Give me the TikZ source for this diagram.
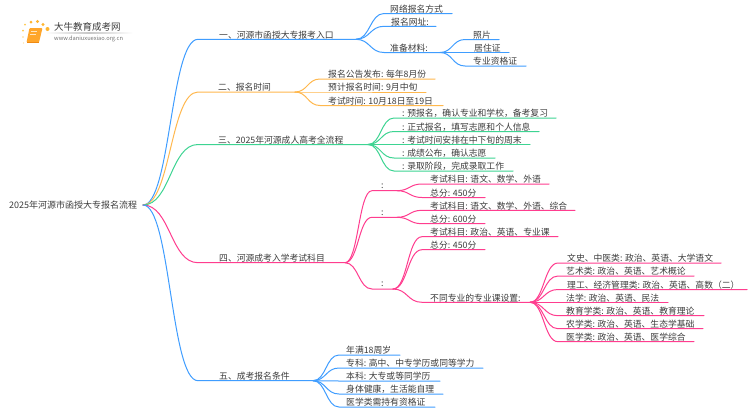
\documentclass[tikz,border=0pt]{standalone}
\usepackage{fontspec}
\setmainfont{Noto Sans CJK SC}
\usetikzlibrary{calc,fadings}
\definecolor{cblue}{HTML}{3F9DFF}
\definecolor{corange}{HTML}{FFB84D}
\definecolor{cgreen}{HTML}{3DD492}
\definecolor{cpink}{HTML}{FF3D8F}
\definecolor{ctext}{HTML}{3C3C3C}
\definecolor{bookc}{HTML}{FFA62B}
\definecolor{bookd}{HTML}{F08A12}
\tikzset{
  lab/.style={anchor=west,inner sep=0pt,text=ctext,font=\fontsize{8.8}{10}\selectfont},
  conn/.style={line width=1pt,line cap=round},
}
% name, parent, colour, curve end x, line end x, y, text x, text
\newcommand{\leaf}[8]{%
  \coordinate (#1-c) at (#4,#6);
  \coordinate (#1-e) at (#5,#6);
  \coordinate (#1-m) at ($(#2-e)!0.5!(#1-c)$);
  \draw[conn,#3] (#2-e) .. controls (#1-m |- #2-e) and (#1-m |- #1-c) .. (#1-c) -- (#1-e);
  \node[lab] (#1) at (#7,#6-4.5) {#8};
}
\begin{document}
\begin{tikzpicture}[x=1pt,y=-1pt]
\useasboundingbox (0,0) rectangle (750,410);
\fill[white] (0,0) rectangle (750,410);
% logo
\foreach \i/\a/\b/\s/\c in {1/23/30.5/2/FFC94D,2/25/24.5/2/FFC94D,3/31/22/3/FFB52E,4/37.5/21.5/3.4/FFB52E,5/43/24.5/3.4/FFB52E,6/47.5/29/4/FFB52E,7/23/37/1.6/FFD98A,8/23.5/43/1.4/FFD98A}{
  \definecolor{dc}{HTML}{\c}
  \node[circle,fill=dc,inner sep=0pt,minimum size=\s pt] (dot\i) at (\a,\b) {};
}
\fill[rounded corners=1pt,fill=bookc] (29.5,28) -- (42.5,28) -- (39,42.5) -- (26.5,42.5) -- cycle;
\draw[white!70!bookc,line width=0.6pt] (31,31) -- (37,31) (30.4,34) -- (36,34);
\draw[bookd,line width=0.9pt] (27,42.5) -- (39,42.5);
\node[anchor=west,inner sep=0pt,text=ctext,font=\fontsize{9.5}{10}\selectfont] (logot) at (54,27.3) {大牛教育成考网};
\node[anchor=west,inner sep=0pt,text=black!55,font=\fontsize{5.7}{6}\selectfont] (logou) at (54,39) {www.daniuxuexiao.org.cn};
\shade[left color=white,right color=white,middle color=black!22] (45,32.9) rectangle (133,33.3);
% root
\node[lab,font=\fontsize{9}{10}\selectfont] (root) at (9,205.3) {2025年河源市函授大专报名流程};
\coordinate (root-e) at (143,205);
% first branch
\leaf{a}{root}{cblue}{198}{356}{39.3}{219}{一、河源市函授大专报考入口}
\leaf{a1}{a}{cblue}{384}{452}{13.5}{390}{网络报名方式}
\leaf{a2}{a}{cblue}{384}{436}{26.3}{391}{报名网址:}
\leaf{a3}{a}{cblue}{384}{440}{52.5}{390}{准备材料:}
\leaf{a31}{a3}{cblue}{465}{499}{39.5}{473}{照片}
\leaf{a32}{a3}{cblue}{465}{509}{52.5}{474}{居住证}
\leaf{a33}{a3}{cblue}{465}{526}{66}{473}{专业资格证}
% second branch
\leaf{b}{root}{corange}{198}{295}{92}{218}{二、报名时间}
\leaf{b1}{b}{corange}{320}{435}{79}{328}{报名公告发布: 每年8月份}
\leaf{b2}{b}{corange}{320}{426}{92}{328}{预计报名时间: 9月中旬}
\leaf{b3}{b}{corange}{320}{443}{105.5}{328}{考试时间: 10月18日至19日}
% third branch
\leaf{c}{root}{cgreen}{198}{368}{144.5}{218}{三、2025年河源成人高考全流程}
\leaf{c1}{c}{cgreen}{394}{556}{118}{402}{: 预报名，确认专业和学校，备考复习}
\leaf{c2}{c}{cgreen}{394}{539}{131.5}{402}{: 正式报名，填写志愿和个人信息}
\leaf{c3}{c}{cgreen}{394}{530}{144.5}{402}{: 考试时间安排在中下旬的周末}
\leaf{c4}{c}{cgreen}{394}{495}{158}{402}{: 成绩公布，确认志愿}
\leaf{c5}{c}{cgreen}{394}{513}{171}{402}{: 录取阶段，完成录取工作}
% fourth branch
\leaf{d}{root}{cpink}{198}{345}{262.7}{219}{四、河源成考入学考试科目}
\leaf{d1}{d}{cpink}{372}{397}{190.7}{381}{:}
\leaf{d2}{d}{cpink}{372}{397}{217.3}{381}{:}
\leaf{d3}{d}{cpink}{372}{393}{289}{381}{:}
\leaf{d11}{d1}{cpink}{422}{549}{184}{430}{考试科目: 语文、数学、外语}
\leaf{d12}{d1}{cpink}{422}{485}{197.5}{430}{总分: 450分}
\leaf{d21}{d2}{cpink}{422}{575}{210.3}{430}{考试科目: 语文、数学、外语、综合}
\leaf{d22}{d2}{cpink}{422}{485}{223.7}{430}{总分: 600分}
\leaf{d31}{d3}{cpink}{422}{558}{236.7}{430}{考试科目: 政治、英语、专业课}
\leaf{d32}{d3}{cpink}{422}{485}{249.7}{430}{总分: 450分}
\leaf{d33}{d3}{cpink}{422}{530}{302.3}{430}{不同专业的专业课设置:}
\leaf{e1}{d33}{cpink}{558}{721}{263}{567}{文史、中医类: 政治、英语、大学语文}
\leaf{e2}{d33}{cpink}{558}{694}{276}{566}{艺术类: 政治、英语、艺术概论}
\leaf{e3}{d33}{cpink}{558}{747}{289.5}{567}{理工、经济管理类: 政治、英语、高数（二）}
\leaf{e4}{d33}{cpink}{558}{668}{302.3}{566}{法学: 政治、英语、民法}
\leaf{e5}{d33}{cpink}{558}{704}{315.7}{566}{教育学类: 政治、英语、教育理论}
\leaf{e6}{d33}{cpink}{558}{703}{328.7}{566}{农学类: 政治、英语、生态学基础}
\leaf{e7}{d33}{cpink}{558}{694}{341.7}{566}{医学类: 政治、英语、医学综合}
% fifth branch
\leaf{f}{root}{cblue}{198}{313}{380.7}{219}{五、成考报名条件}
\leaf{f1}{f}{cblue}{339}{400}{355}{346}{年满18周岁}
\leaf{f2}{f}{cblue}{339}{483}{368}{346}{专科: 高中、中专学历或同等学力}
\leaf{f3}{f}{cblue}{339}{440}{381}{346}{本科: 大专或等同学历}
\leaf{f4}{f}{cblue}{339}{443}{394}{346}{身体健康，生活能自理}
\leaf{f5}{f}{cblue}{339}{435}{407}{346}{医学类需持有资格证}
\end{tikzpicture}
\end{document}
